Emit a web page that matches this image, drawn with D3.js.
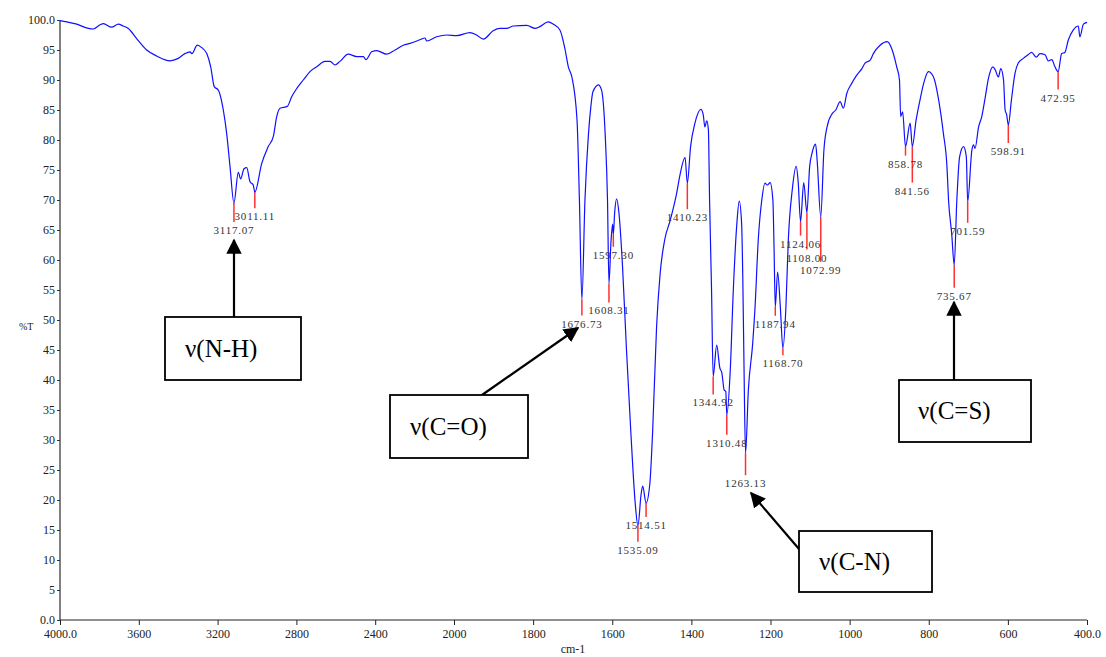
<!DOCTYPE html>
<html>
<head>
<meta charset="utf-8">
<script src="https://cdn.jsdelivr.net/npm/d3@7"></script>
<style>
  body { margin: 0; background: #fff; }
  svg text { font-family: "Liberation Serif", "Times New Roman", "DejaVu Serif", serif; }
</style>
</head>
<body>
<div id="chart"></div>
<script>
// IR spectrum: wavenumber (cm-1) and transmittance (%T)
var wavenumber = [4000, 3966, 3915, 3856, 3831, 3797, 3780, 3738, 3704, 3679, 3653, 3611, 3560, 3509, 3442, 3400,
  3366, 3340, 3331, 3303, 3281, 3255, 3235, 3217, 3196, 3171, 3154, 3137, 3117.07, 3095, 3083, 3066, 3052, 3036,
  3019, 3011.11, 2976, 2943, 2917, 2900, 2883, 2846, 2824, 2798, 2765, 2731, 2697, 2655, 2629, 2604, 2579, 2537,
  2494, 2460, 2447, 2418, 2392, 2342, 2299, 2257, 2223, 2173, 2147, 2139, 2088, 2037, 1993, 1960, 1943, 1926,
  1901, 1884, 1867, 1850, 1816, 1795, 1783, 1762, 1749, 1732, 1719, 1711, 1702, 1689, 1683, 1676.73, 1669, 1660,
  1654, 1649, 1635, 1627, 1618, 1612, 1608.31, 1603, 1599, 1597.30, 1594, 1589, 1583, 1574, 1564, 1553, 1542,
  1535.09, 1527, 1523, 1514.51, 1505, 1498, 1488, 1479, 1467, 1454, 1437, 1429, 1416, 1410.23, 1402, 1391, 1376,
  1370, 1366, 1361, 1357, 1354, 1349, 1344.92, 1336, 1328, 1323, 1317, 1313, 1310.48, 1302, 1294, 1285, 1279,
  1273, 1270, 1266.5, 1263.13, 1256, 1245, 1239, 1231, 1222, 1214, 1208, 1201, 1194, 1191, 1187.94, 1182, 1175,
  1168.70, 1161, 1155, 1145, 1135, 1130, 1124.06, 1116, 1108.00, 1101, 1095, 1086, 1082, 1072.99, 1065, 1057,
  1044, 1035, 1024, 1016, 1007, 995, 982, 969, 961, 948, 940, 923, 905, 894, 881, 874, 871, 866, 858.78, 847,
  841.56, 832, 822, 813, 801, 788, 775, 763, 754, 750, 742, 735.67, 729, 722, 712, 705, 701.59, 691, 687, 683,
  674, 666, 657, 649, 638, 632, 624, 618, 611, 607, 603, 598.91, 591, 582, 574, 561, 549, 540, 528, 519, 506,
  498, 489, 481, 472.95, 464, 456, 447, 435, 422, 418, 409, 400];

var transmittance = [99.9, 99.7, 99.3, 98.6, 98.5, 99.2, 99.4, 98.8, 99.3, 99.0, 98.6, 96.9, 95.0, 94.0, 93.2, 93.6,
  94.4, 94.7, 94.4, 95.8, 95.4, 94.4, 92.2, 88.9, 88.3, 85.0, 81.1, 75.6, 69.5, 74.6, 73.5, 75.2, 75.4, 73.1,
  72.5, 71.3, 76.1, 78.9, 80.6, 83.9, 85.3, 85.6, 87.2, 88.6, 90.0, 91.4, 92.2, 93.1, 93.1, 92.5, 93.1, 94.3,
  93.9, 93.9, 93.4, 94.7, 94.9, 94.3, 95.0, 95.8, 96.1, 96.7, 97.0, 96.5, 97.2, 97.5, 97.4, 97.9, 97.5, 96.8,
  98.2, 98.6, 98.6, 99.0, 99.1, 98.6, 98.9, 99.7, 99.3, 98.3, 95.0, 92.2, 90.5, 83.3, 70.0, 53.4, 70.0, 81.1,
  85.6, 88.0, 89.2, 88.3, 81.1, 70.0, 56.1, 63.3, 66.0, 64.2, 67.8, 70.2, 67.8, 58.9, 45.0, 31.3, 19.5,
  15.7, 21.0, 22.3, 19.5, 22.7, 31.3, 48.8, 57.7, 63.5, 66.5, 71.2, 74.1, 77.1, 72.8, 78.9, 82.8, 85.1,
  84.2, 82.2, 83.2, 81.7, 70.0, 55.0, 40.6, 45.8, 42.0, 41.2, 38.3, 38.1, 34.2, 41.2, 55.0, 66.1, 69.8,
  66.1, 57.0, 40.0, 27.8, 38.3, 46.1, 52.2, 63.3, 70.0, 72.8, 72.5, 72.9, 70.0, 62.0, 52.2, 58.0, 52.0,
  45.3, 52.2, 63.3, 71.7, 75.6, 73.0, 66.4, 72.9, 67.9, 75.6, 77.8, 79.3, 76.5, 67.2, 78.3, 82.2,
  84.4, 85.0, 86.4, 85.3, 87.8, 89.4, 90.8, 91.9, 92.8, 93.3, 94.4, 95.8, 96.4, 95.3, 92.2, 90.0, 83.9, 84.7, 78.9, 82.8,
  78.9, 83.3, 86.7, 89.4, 91.4, 90.5, 86.7, 81.1, 75.6, 70.0, 64.4, 59.2, 70.0, 77.2, 78.9, 77.2, 69.7, 78.3, 79.2, 78.6,
  82.2, 83.9, 87.2, 90.3, 92.2, 91.7, 90.5, 91.9, 90.0, 85.0, 84.2, 82.5, 86.7, 91.1, 92.8, 93.6, 94.2, 94.6, 93.8, 94.4, 94.2,
  93.2, 93.4, 92.2, 91.4, 94.4, 94.6, 96.7, 98.3, 99.0, 97.2, 99.3, 99.6];

// labelled peaks
var peakWn = [3117.07, 3011.11, 1676.73, 1608.31, 1597.30, 1535.09, 1514.51, 1410.23, 1344.92, 1310.48, 1263.13,
  1187.94, 1168.70, 1124.06, 1108.00, 1072.99, 858.78, 841.56, 735.67, 701.59, 598.91, 472.95];
var peakT = [69.5, 71.3, 53.4, 56.1, 64.2, 15.7, 19.5, 72.8, 40.6, 34.2, 27.8,
  52.2, 45.3, 66.4, 67.9, 67.2, 78.9, 78.9, 59.2, 69.7, 82.5, 91.4];
var peakLabels = ["3117.07", "3011.11", "1676.73", "1608.31", "1597.30", "1535.09", "1514.51", "1410.23", "1344.92",
  "1310.48", "1263.13", "1187.94", "1168.70", "1124.06", "1108.00", "1072.99", "858.78", "841.56", "735.67",
  "701.59", "598.91", "472.95"];

// axis ticks
var xTicks = [4000, 3600, 3200, 2800, 2400, 2000, 1800, 1600, 1400, 1200, 1000, 800, 600, 400];
var xTickLabels = ["4000.0", "3600", "3200", "2800", "2400", "2000", "1800", "1600", "1400", "1200", "1000", "800", "600", "400.0"];
var yTicks = [0, 5, 10, 15, 20, 25, 30, 35, 40, 45, 50, 55, 60, 65, 70, 75, 80, 85, 90, 95, 100];
var yTickLabels = ["0.0", "5", "10", "15", "20", "25", "30", "35", "40", "45", "50", "55", "60", "65", "70", "75", "80", "85", "90", "95", "100.0"];

// band assignments
var bandNames = ["ν(N-H)", "ν(C=O)", "ν(C-N)", "ν(C=S)"];

// length of the red marker under each peak (px)
var peakDrop = [19, 16, 16, 19, 12, 16, 14, 26, 18, 20, 22, 9, 7, 14, 37, 45, 9, 36, 23, 21, 18, 18];

var svgWidth = 1106;
var svgHeight = 657;
var serif = "'Liberation Serif', 'Times New Roman', 'DejaVu Serif', serif";

var svg = d3.select("#chart")
    .append("svg")
    .attr("width", svgWidth)
    .attr("height", svgHeight)
    .attr("font-family", serif);

// x axis changes scale at 2000 cm-1
var xScale = d3.scaleLinear()
    .domain([4000, 2000, 400])
    .range([60, 454, 1087]);

var yScale = d3.scaleLinear()
    .domain([0, 100])
    .range([620, 20]);

var data = wavenumber.map(function(w, i) { return { wn: w, t: transmittance[i] }; });

// axes
var leftAxis = d3.axisLeft(yScale)
    .tickValues(yTicks)
    .tickSize(3)
    .tickFormat(function(d, i) { return yTickLabels[i]; });

var bottomAxis = d3.axisBottom(xScale)
    .tickValues(xTicks)
    .tickSize(5)
    .tickFormat(function(d, i) { return xTickLabels[i]; });

var gy = svg.append("g")
    .attr("transform", "translate(60,0)")
    .call(leftAxis)
    .attr("font-family", serif)
    .attr("font-size", 12);
gy.select(".domain").attr("stroke", "#808080").attr("stroke-width", 2).attr("d", "M0,20V620");
gy.selectAll(".tick line").attr("stroke", "#333");
gy.selectAll(".tick text")
    .attr("fill", "#222")
    .attr("x", -5);

var gx = svg.append("g")
    .attr("transform", "translate(0,620)")
    .call(bottomAxis)
    .attr("font-family", serif)
    .attr("font-size", 12);
gx.select(".domain").attr("stroke", "#222").attr("stroke-width", 1.2).attr("d", "M60,0H1087");
gx.selectAll(".tick line").attr("stroke", "#222");
gx.selectAll(".tick text")
    .attr("fill", "#222")
    .attr("y", 9);

// axis titles
svg.append("text")
    .attr("x", 573)
    .attr("y", 653)
    .attr("text-anchor", "middle")
    .attr("font-size", 12)
    .attr("fill", "#222")
    .text("cm-1");

svg.append("text")
    .attr("x", 19)
    .attr("y", 330)
    .attr("font-size", 10)
    .attr("fill", "#222")
    .text("%T");

// red peak markers
var peaks = peakWn.map(function(w, i) {
  return { wn: w, t: peakT[i], label: peakLabels[i], drop: peakDrop[i] };
});

svg.append("g").selectAll("line")
    .data(peaks)
    .enter()
    .append("line")
    .attr("x1", d => xScale(d.wn))
    .attr("x2", d => xScale(d.wn))
    .attr("y1", d => yScale(d.t))
    .attr("y2", d => yScale(d.t) + d.drop)
    .attr("stroke", "#ff3030")
    .attr("stroke-width", 1.5);

// spectrum
var line = d3.line()
    .x(d => xScale(d.wn))
    .y(d => yScale(d.t))
    .curve(d3.curveMonotoneX);

svg.append("path")
    .datum(data)
    .attr("d", line)
    .attr("fill", "none")
    .attr("stroke", "#1010ff")
    .attr("stroke-width", 1.2);

// peak labels
svg.append("g").selectAll("text")
    .data(peaks)
    .enter()
    .append("text")
    .attr("x", d => xScale(d.wn))
    .attr("y", d => yScale(d.t) + d.drop + 12)
    .attr("text-anchor", "middle")
    .attr("font-size", 11)
    .attr("letter-spacing", 0.8)
    .attr("fill", "#333")
    .text(d => d.label);

// band boxes with arrows
svg.append("defs").append("marker")
    .attr("id", "head")
    .attr("viewBox", "0 0 10 10")
    .attr("refX", 9)
    .attr("refY", 5)
    .attr("markerWidth", 7)
    .attr("markerHeight", 7)
    .attr("markerUnits", "strokeWidth")
    .attr("orient", "auto")
    .append("path")
    .attr("d", "M0,0L10,5L0,10Z")
    .attr("fill", "#000");

var boxes = [
  { x: 165, y: 317, w: 136, h: 63, tx: 185, ty: 357, ax1: 234, ay1: 317, ax2: 234, ay2: 240 },
  { x: 390, y: 395, w: 138, h: 63, tx: 410, ty: 435, ax1: 482, ay1: 395, ax2: 578, ay2: 328 },
  { x: 799, y: 531, w: 133, h: 61, tx: 819, ty: 570, ax1: 799, ay1: 549, ax2: 751, ay2: 493 },
  { x: 899, y: 380, w: 132, h: 62, tx: 918, ty: 419, ax1: 954, ay1: 380, ax2: 954, ay2: 302 }
];

boxes.forEach(function(b, i) {
  svg.append("line")
      .attr("x1", b.ax1).attr("y1", b.ay1)
      .attr("x2", b.ax2).attr("y2", b.ay2)
      .attr("stroke", "#000")
      .attr("stroke-width", 2.2)
      .attr("marker-end", "url(#head)");
  svg.append("rect")
      .attr("x", b.x).attr("y", b.y)
      .attr("width", b.w).attr("height", b.h)
      .attr("fill", "#fff")
      .attr("stroke", "#000")
      .attr("stroke-width", 1.8);
  svg.append("text")
      .attr("x", b.tx)
      .attr("y", b.ty)
      .attr("font-size", 25)
      .attr("fill", "#000")
      .text(bandNames[i]);
});
</script>
</body>
</html>
